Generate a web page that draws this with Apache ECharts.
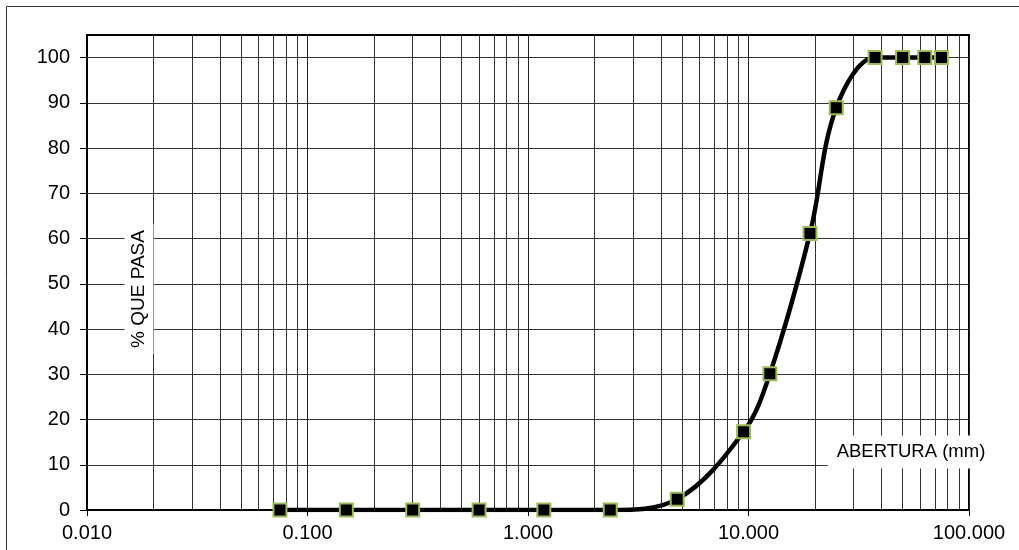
<!DOCTYPE html>
<html>
<head>
<meta charset="utf-8">
<script src="https://cdn.jsdelivr.net/npm/echarts@6/dist/echarts.min.js"></script>
<style>
  html, body { margin: 0; padding: 0; background: #fff; }
  #chart { width: 1019px; height: 550px; }
</style>
</head>
<body>
<div id="chart"></div>
<script>
// Sieve openings (mm) and cumulative percent passing
const aberturas = [0.075, 0.15, 0.3, 0.6, 1.18, 2.36, 4.75, 9.5, 12.5, 19, 25, 37.5, 50, 63, 75];
const pasa      = [0, 0, 0, 0, 0, 0, 2.4, 17.3, 30.1, 61.1, 88.9, 100, 100, 100, 100];

// Axis ticks and intermediate log grid lines
const yTicks = [0, 10, 20, 30, 40, 50, 60, 70, 80, 90, 100];
const xMinorLines = [
  0.02, 0.03, 0.04, 0.05, 0.06, 0.07, 0.08, 0.09,
  0.2, 0.3, 0.4, 0.5, 0.6, 0.7, 0.8, 0.9,
  2, 3, 4, 5, 6, 7, 8, 9,
  20, 30, 40, 50, 60, 70, 80, 90
];

const FONT = 'Liberation Sans, Arial, sans-serif';
const chart = echarts.init(document.getElementById('chart'), null, { renderer: 'canvas' });

chart.setOption({
  animation: false,
  backgroundColor: '#fff',
  grid: {
    left: 87, top: 35, right: 50, bottom: 40,
    show: true, borderColor: '#000', borderWidth: 2, backgroundColor: 'transparent'
  },
  xAxis: {
    type: 'log', logBase: 10, min: 0.01, max: 100,
    axisLine: { show: true, onZero: false, lineStyle: { color: '#000', width: 2 } },
    axisTick: { show: true, inside: false, length: 6, lineStyle: { color: '#000', width: 1 } },
    axisLabel: {
      color: '#000', fontFamily: FONT, fontSize: 20, margin: 13,
      formatter: v => Number(v).toFixed(3)
    },
    splitLine: { show: true, lineStyle: { color: '#222', width: 1 } },
    minorTick: { show: false }, minorSplitLine: { show: false }
  },
  yAxis: {
    type: 'value', min: 0, max: 105, interval: 10,
    axisLine: { show: true, lineStyle: { color: '#000', width: 2 } },
    axisTick: { show: true, length: 7, customValues: yTicks, lineStyle: { color: '#000', width: 1 } },
    axisLabel: {
      color: '#000', fontFamily: FONT, fontSize: 20, margin: 17,
      customValues: yTicks
    },
    splitLine: { show: true, lineStyle: { color: '#333', width: 1 } }
  },
  graphic: [
    {
      type: 'rect', silent: true, z: -10,
      shape: { x: 6.5, y: 6.5, width: 1100, height: 600 },
      style: { fill: 'none', stroke: '#333', lineWidth: 1 }
    },
    {
      type: 'text', silent: true, z: 50,
      x: 139, y: 289, rotation: Math.PI / 2,
      style: {
        text: '% QUE PASA', font: '19px ' + FONT, fill: '#000',
        align: 'center', verticalAlign: 'middle',
        backgroundColor: '#fff', padding: [5, 6, 5, 6]
      }
    },
    {
      type: 'text', silent: true, z: 50,
      x: 911, y: 452,
      style: {
        text: 'ABERTURA (mm)', font: '18.5px ' + FONT, fill: '#000',
        align: 'center', verticalAlign: 'middle',
        backgroundColor: '#fff', padding: [7, 9, 7, 9]
      }
    }
  ],
  series: [
    {
      // intermediate vertical grid lines of the log scale
      type: 'line', data: [], silent: true, z: 1,
      markLine: {
        silent: true, symbol: ['none', 'none'], animation: false,
        label: { show: false },
        lineStyle: { color: '#333', width: 1, type: 'solid' },
        emphasis: { disabled: true },
        data: xMinorLines.map(v => ({ xAxis: v }))
      }
    },
    {
      name: '% QUE PASA',
      type: 'line', z: 10,
      data: aberturas.map((a, i) => [a, pasa[i]]),
      smooth: 0.35,
      lineStyle: { color: '#000', width: 4.5 },
      symbol: 'rect', symbolSize: 13,
      itemStyle: { color: '#000', borderColor: '#9bbb59', borderWidth: 2 }
    }
  ]
});
</script>
</body>
</html>
